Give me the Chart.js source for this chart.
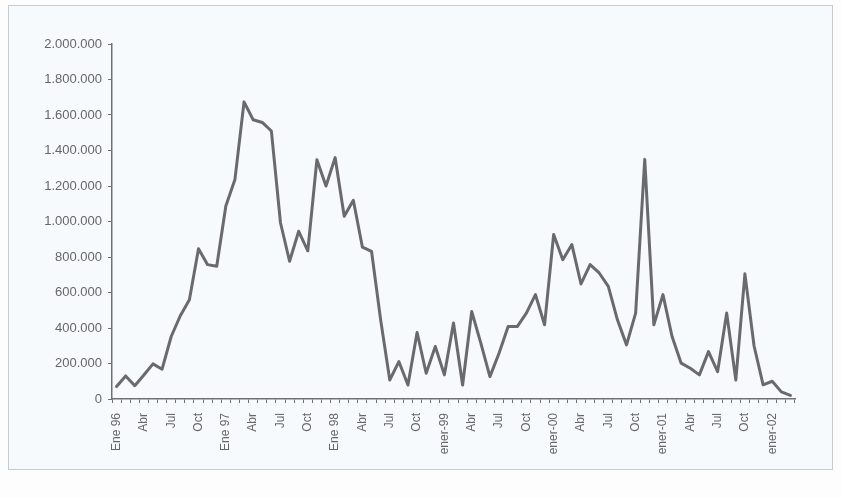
<!DOCTYPE html>
<html>
<head>
<meta charset="utf-8">
<script src="https://cdn.jsdelivr.net/npm/chart.js@4/dist/chart.umd.min.js"></script>
<style>
  html, body { margin: 0; padding: 0; background: #fdfdfd; }
  #wrap { position: relative; width: 841px; height: 498px; }
  #frame {
    position: absolute; left: 8px; top: 5px; width: 823px; height: 463px;
    border: 1px solid #c9cccf; background: #f6fafc;
  }
  canvas { position: absolute; left: 0; top: 0; }
</style>
</head>
<body>
<div id="wrap">
  <div id="frame"></div>
  <canvas id="c" width="841" height="498"></canvas>
</div>
<script>
// Monthly categories, January 1996 to March 2002
const categories = [
  'Ene 96','Feb 96','Mar 96','Abr 96','May 96','Jun 96','Jul 96','Ago 96','Sep 96','Oct 96','Nov 96','Dic 96',
  'Ene 97','Feb 97','Mar 97','Abr 97','May 97','Jun 97','Jul 97','Ago 97','Sep 97','Oct 97','Nov 97','Dic 97',
  'Ene 98','Feb 98','Mar 98','Abr 98','May 98','Jun 98','Jul 98','Ago 98','Sep 98','Oct 98','Nov 98','Dic 98',
  'ene-99','feb-99','mar-99','abr-99','may-99','jun-99','jul-99','ago-99','sep-99','oct-99','nov-99','dic-99',
  'ener-00','feb-00','mar-00','abr-00','may-00','jun-00','jul-00','ago-00','sep-00','oct-00','nov-00','dic-00',
  'ener-01','feb-01','mar-01','abr-01','may-01','jun-01','jul-01','ago-01','sep-01','oct-01','nov-01','dic-01',
  'ener-02','feb-02','mar-02'
];

// Labels printed under every third month
const tickLabels = [
  'Ene 96','Abr','Jul','Oct','Ene 97','Abr','Jul','Oct','Ene 98','Abr','Jul','Oct',
  'ener-99','Abr','Jul','Oct','ener-00','Abr','Jul','Oct','ener-01','Abr','Jul','Oct','ener-02'
];

// Monthly values
const values = [
  70000, 130000, 75000, 135000, 198000, 168000, 352000, 469000, 559000, 846000, 757000, 748000,
  1087000, 1237000, 1674000, 1573000, 1558000, 1510000, 993000, 776000, 945000, 835000, 1348000, 1200000,
  1360000, 1030000, 1120000, 855000, 832000, 446000, 107000, 211000, 79000, 375000, 145000, 296000,
  136000, 428000, 79000, 493000, 315000, 126000, 258000, 408000, 408000, 484000, 588000, 418000,
  927000, 785000, 870000, 648000, 757000, 710000, 635000, 446000, 305000, 484000, 1350000, 418000,
  588000, 352000, 202000, 173000, 136000, 267000, 154000, 484000, 107000, 705000, 300000, 80000,
  100000, 40000, 20000
];

const yMin = 0, yMax = 2000000, yStep = 200000;

const fmt = v => String(Math.round(v)).replace(/\B(?=(\d{3})+(?!\d))/g, '.');

new Chart(document.getElementById('c'), {
  type: 'line',
  data: {
    labels: categories,
    datasets: [{
      data: values,
      borderColor: '#6a6a6e',
      borderWidth: 3,
      borderJoinStyle: 'round',
      borderCapStyle: 'round',
      pointRadius: 0,
      tension: 0,
      fill: false
    }]
  },
  options: {
    responsive: false,
    animation: false,
    layout: { padding: { left: 30, right: 46, top: 44, bottom: 36 } },
    plugins: { legend: { display: false }, tooltip: { enabled: false } },
    scales: {
      x: {
        type: 'category',
        offset: true,
        border: { display: true, color: '#707074', width: 1.5 },
        grid: {
          offset: true, drawOnChartArea: false, drawTicks: true,
          tickLength: 4, color: '#707074', lineWidth: 1
        },
        ticks: {
          autoSkip: false, maxRotation: 90, minRotation: 90, padding: 10,
          color: '#666', font: { family: 'Liberation Sans, Arial', size: 12 },
          callback: (v, i) => (i % 3 === 0 ? tickLabels[i / 3] : '')
        },
        afterFit: s => { s.height = 63; }
      },
      y: {
        min: yMin, max: yMax,
        border: { display: true, color: '#707074', width: 1.5 },
        grid: { drawOnChartArea: false, drawTicks: true, tickLength: 4, color: '#707074' },
        ticks: {
          stepSize: yStep, padding: 6,
          color: '#666', font: { family: 'Liberation Sans, Arial', size: 13 },
          callback: v => fmt(v)
        },
        afterFit: s => { s.width = 82; }
      }
    }
  }
});
</script>
</body>
</html>
